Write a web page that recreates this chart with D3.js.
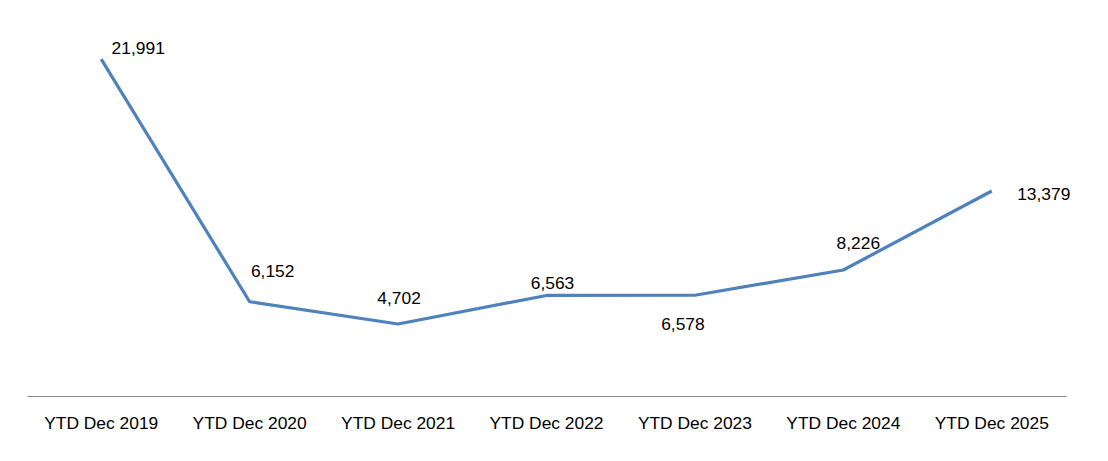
<!DOCTYPE html>
<html><head><meta charset="utf-8">
<script src="https://cdn.jsdelivr.net/npm/d3@7"></script>
<style>body{margin:0;background:#fff}svg{display:block}text{font-family:"Liberation Sans",Arial,sans-serif;fill:#000}</style>
</head><body>
<script>
const categories = ["YTD Dec 2019","YTD Dec 2020","YTD Dec 2021","YTD Dec 2022","YTD Dec 2023","YTD Dec 2024","YTD Dec 2025"];
const values = [21991, 6152, 4702, 6563, 6578, 8226, 13379];

// label placement offsets (px) relative to each point: [dx, dy] of label centre
const labelOffsets = [[37,-11],[23,-31],[1,-26],[6,-13],[-12,29],[15,-27],[52,3]];

const W = 1108, H = 461;
const svg = d3.select("body").append("svg").attr("width", W).attr("height", H);
const x = d3.scaleBand().domain(categories).range([27, 1066]);
const y = d3.scaleLinear().domain([0, 25000]).range([396, 13]);
const cx = d => x(d) + x.bandwidth() / 2;
const FS = 17.4;

svg.append("g").attr("transform", "translate(0,396)")
  .call(d3.axisBottom(x).tickSize(0).tickPadding(21))
  .call(g => g.select(".domain").attr("stroke", "#898989").attr("stroke-width", 1.2))
  .call(g => g.selectAll("text").attr("font-size", FS).attr("fill", "#000"));

const line = d3.line().x((d, i) => cx(categories[i])).y(d => y(d));
svg.append("path").datum(values).attr("d", line)
  .attr("fill", "none").attr("stroke", "#4F81BD").attr("stroke-width", 3.2).attr("stroke-linejoin", "round");

svg.selectAll(".lbl").data(values).enter().append("text")
  .attr("font-size", FS)
  .attr("x", (d, i) => cx(categories[i]) + labelOffsets[i][0])
  .attr("y", (d, i) => y(d) + labelOffsets[i][1])
  .attr("dy", "0.35em")
  .attr("text-anchor", "middle")
  .text(d => d3.format(",")(d));
</script>
</body></html>
